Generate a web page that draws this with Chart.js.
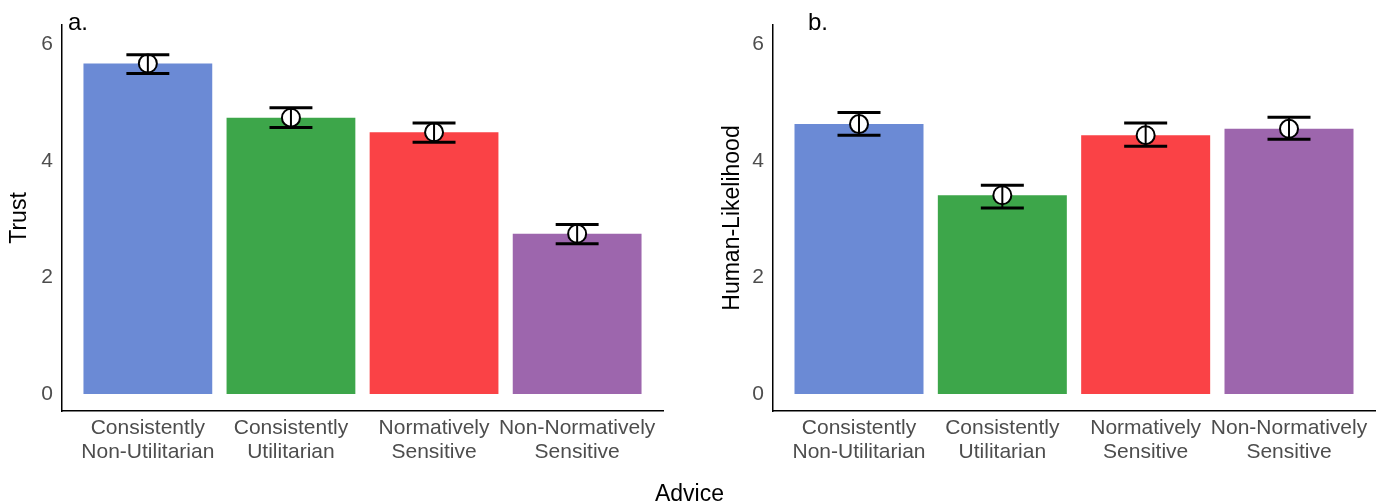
<!DOCTYPE html>
<html>
<head>
<meta charset="utf-8">
<script src="https://cdn.jsdelivr.net/npm/chart.js@4.4.1/dist/chart.umd.min.js"></script>
<style>
  body { margin: 0; background: #fff; }
  #wrap { position: relative; width: 1379px; height: 503px; overflow: hidden; font-family: 'Liberation Sans', Arial, sans-serif; }
  canvas { position: absolute; top: 0; }
  #xtitle { position: absolute; left: 0; width: 1379px; top: 480px; line-height: 26px; text-align: center; font-size: 23px; color: #000; }
</style>
</head>
<body>
<div id="wrap">
  <canvas id="trustChart" width="689" height="503" style="left:0"></canvas>
  <canvas id="humanChart" width="697" height="503" style="left:689px"></canvas>
  <div id="xtitle">Advice</div>
</div>
<script>
const categories = [
  ['Consistently', 'Non-Utilitarian'],
  ['Consistently', 'Utilitarian'],
  ['Normatively', 'Sensitive'],
  ['Non-Normatively', 'Sensitive']
];
const barColors = ['#6B8AD5', '#3DA64A', '#FA4246', '#9D66AD'];
const yTicks = [0, 2, 4, 6];

// panel a: trust
const trustMean = [5.67, 4.74, 4.49, 2.75];
const trustLow = [5.50, 4.57, 4.32, 2.58];
const trustHigh = [5.82, 4.91, 4.65, 2.91];

// panel b: human-likelihood
const humanMean = [4.63, 3.41, 4.44, 4.55];
const humanLow = [4.44, 3.19, 4.25, 4.37];
const humanHigh = [4.83, 3.58, 4.65, 4.75];

const FONT = "'Liberation Sans', Arial, sans-serif";
const GREY = '#4D4D4D';

// error bars drawn over the mean points
const errorBars = {
  id: 'errorBars',
  afterDatasetsDraw(chart, args, opts) {
    const ctx = chart.ctx;
    const xs = chart.scales.x, ys = chart.scales.y;
    ctx.save();
    ctx.strokeStyle = '#000';
    opts.low.forEach((lo, i) => {
      const cx = xs.getPixelForValue(i + 1);
      const x0 = xs.getPixelForValue(i + 1 - 0.15);
      const x1 = xs.getPixelForValue(i + 1 + 0.15);
      const yl = ys.getPixelForValue(lo);
      const yh = ys.getPixelForValue(opts.high[i]);
      ctx.lineWidth = 2;
      ctx.beginPath();
      ctx.moveTo(cx, yl);
      ctx.lineTo(cx, yh);
      ctx.stroke();
      ctx.lineWidth = 3;
      ctx.beginPath();
      ctx.moveTo(x0, yl); ctx.lineTo(x1, yl);
      ctx.moveTo(x0, yh); ctx.lineTo(x1, yh);
      ctx.stroke();
    });
    ctx.restore();
  }
};

// "a." / "b." tags
const panelTag = {
  id: 'panelTag',
  afterDraw(chart, args, opts) {
    const ctx = chart.ctx;
    ctx.save();
    ctx.fillStyle = '#000';
    ctx.font = '24px ' + FONT;
    ctx.textBaseline = 'alphabetic';
    ctx.fillText(opts.text, chart.chartArea.left + opts.dx, opts.y);
    ctx.restore();
  }
};

function makePanel(id, yLabel, mean, low, high, tag, tagDx, yWidth, titlePad, padRight) {
  new Chart(document.getElementById(id), {
    type: 'bar',
    data: {
      datasets: [{
        type: 'line',
        data: mean.map((v, i) => ({ x: i + 1, y: v })),
        showLine: false,
        pointRadius: 9,
        pointBorderWidth: 2,
        pointBackgroundColor: '#fff',
        pointBorderColor: '#000',
        order: 1
      }, {
        data: mean.map((v, i) => ({ x: i + 1, y: v })),
        backgroundColor: barColors,
        borderWidth: 0,
        categoryPercentage: 1,
        barPercentage: 0.9,
        order: 2
      }]
    },
    options: {
      responsive: false,
      animation: false,
      layout: { padding: { top: 25, right: padRight, left: 0, bottom: 0 } },
      plugins: {
        legend: { display: false },
        tooltip: { enabled: false },
        errorBars: { low: low, high: high },
        panelTag: { text: tag, dx: tagDx, y: 30 }
      },
      scales: {
        x: {
          type: 'linear',
          min: 0.4,
          max: 4.6,
          offset: false,
          afterBuildTicks: s => { s.ticks = categories.map((c, i) => ({ value: i + 1 })); },
          afterFit: s => { s.height = 92; },
          grid: { display: false, drawTicks: false },
          border: { display: true, color: '#000', width: 1.5 },
          ticks: {
            callback: v => categories[Math.round(v) - 1],
            autoSkip: false,
            maxRotation: 0,
            color: GREY,
            padding: 5,
            font: { family: FONT, size: 21, lineHeight: 1.15 }
          }
        },
        y: {
          type: 'linear',
          min: -0.29,
          max: 6.33,
          afterBuildTicks: s => { s.ticks = yTicks.map(v => ({ value: v })); },
          afterFit: s => { s.width = yWidth; },
          grid: { display: false, drawTicks: false },
          border: { display: true, color: '#000', width: 1.5 },
          ticks: { color: GREY, padding: 9, font: { family: FONT, size: 21 } },
          title: {
            display: true,
            text: yLabel,
            color: '#000',
            font: { family: FONT, size: 23 },
            padding: { top: titlePad, bottom: 0 }
          }
        }
      }
    },
    plugins: [errorBars, panelTag]
  });
}

makePanel('trustChart', 'Trust', trustMean, trustLow, trustHigh, 'a.', 6, 62, 6, 26);
makePanel('humanChart', 'Human-Likelihood', humanMean, humanLow, humanHigh, 'b.', 35, 84, 30, 1);
</script>
</body>
</html>
